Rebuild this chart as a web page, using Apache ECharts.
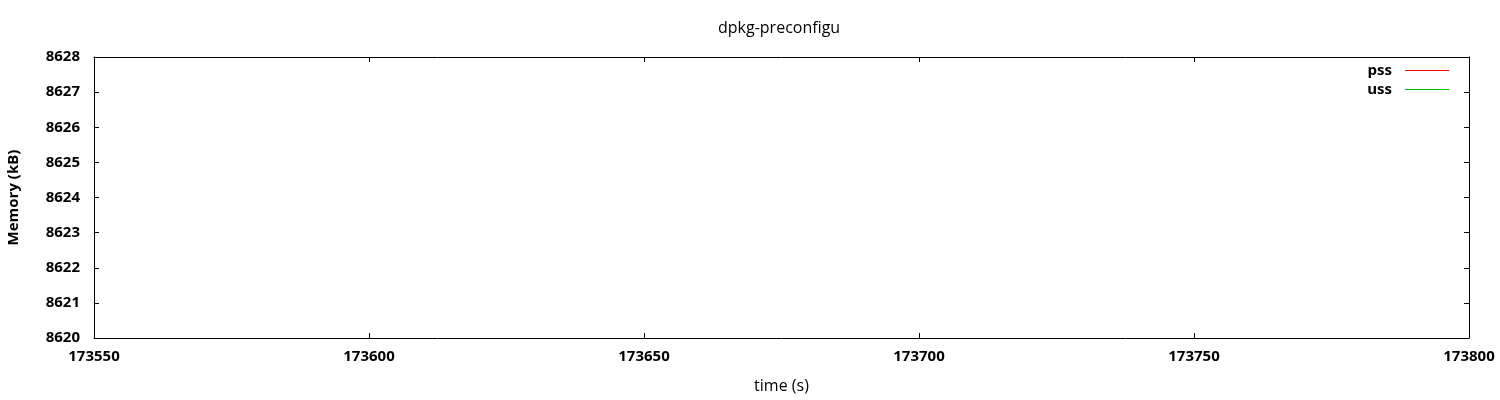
<!DOCTYPE html>
<html>
<head>
<meta charset="utf-8">
<script src="https://cdn.jsdelivr.net/npm/echarts@6/dist/echarts.min.js"></script>
<style>
html,body{margin:0;padding:0;background:#fff;}
#chart{width:1500px;height:400px;}
</style>
</head>
<body>
<div id="chart"></div>
<script>
// Data (the reference plot shows no data points inside the visible range)
const chartTitle = 'dpkg-preconfigu';
const timeValues = [];
const pssValues = [];
const ussValues = [];
const xTicks = [173550, 173600, 173650, 173700, 173750, 173800];
const yTicks = [8620, 8621, 8622, 8623, 8624, 8625, 8626, 8627, 8628];

const FONT = 'Open Sans';
const pssData = timeValues.map((t, i) => [t, pssValues[i]]);
const ussData = timeValues.map((t, i) => [t, ussValues[i]]);

const chart = echarts.init(document.getElementById('chart'));
const tickLabel = { color: '#000', fontFamily: FONT, fontSize: 15, fontWeight: 'bold', formatter: v => String(v) };
const lineStyle = { color: '#000', width: 1 };

chart.setOption({
  animation: false,
  backgroundColor: '#fff',
  title: {
    text: chartTitle,
    left: 713, top: 15,
    textStyle: { color: '#000', fontFamily: FONT, fontSize: 16, fontWeight: 'normal' }
  },
  legend: {
    orient: 'vertical',
    right: 51, top: 63,
    padding: 0,
    align: 'right',
    itemWidth: 44, itemHeight: 1,
    itemGap: 4,
    icon: 'rect',
    textStyle: { color: '#000', fontFamily: FONT, fontSize: 15, lineHeight: 15, fontWeight: 'bold', padding: [0, 8, 0, 0] },
    data: ['pss', 'uss']
  },
  grid: { left: 94, right: 31, top: 57, bottom: 62, containLabel: false, outerBoundsMode: 'none' },
  xAxis: [{
    type: 'value', min: xTicks[0], max: xTicks[xTicks.length - 1], interval: 50,
    name: 'time (s)', nameLocation: 'middle', nameGap: 40,
    nameTextStyle: { color: '#000', fontFamily: FONT, fontSize: 16, fontWeight: 'normal' },
    axisLine: { show: true, lineStyle },
    axisTick: { show: true, inside: true, length: 5, lineStyle },
    axisLabel: Object.assign({ margin: 11 }, tickLabel),
    splitLine: { show: false }
  }, {
    type: 'value', position: 'top', min: xTicks[0], max: xTicks[xTicks.length - 1], interval: 50,
    axisLine: { show: true, lineStyle },
    axisTick: { show: true, inside: true, length: 5, lineStyle },
    axisLabel: { show: false },
    splitLine: { show: false }
  }],
  yAxis: [{
    type: 'value', min: yTicks[0], max: yTicks[yTicks.length - 1], interval: 1,
    name: 'Memory (kB)', nameLocation: 'middle', nameGap: 73, nameRotate: 90,
    nameTextStyle: { color: '#000', fontFamily: FONT, fontSize: 15, fontWeight: 'bold' },
    axisLine: { show: true, lineStyle },
    axisTick: { show: true, inside: true, length: 5, lineStyle },
    axisLabel: Object.assign({ margin: 14 }, tickLabel),
    splitLine: { show: false }
  }, {
    type: 'value', position: 'right', min: yTicks[0], max: yTicks[yTicks.length - 1], interval: 1,
    axisLine: { show: true, lineStyle },
    axisTick: { show: true, inside: true, length: 5, lineStyle },
    axisLabel: { show: false },
    splitLine: { show: false }
  }],
  series: [
    { name: 'pss', type: 'line', data: pssData, showSymbol: false,
      itemStyle: { color: '#ff0000' }, lineStyle: { color: '#ff0000', width: 1 } },
    { name: 'uss', type: 'line', data: ussData, showSymbol: false,
      itemStyle: { color: '#00c000' }, lineStyle: { color: '#00c000', width: 1 } }
  ]
});
</script>
</body>
</html>
